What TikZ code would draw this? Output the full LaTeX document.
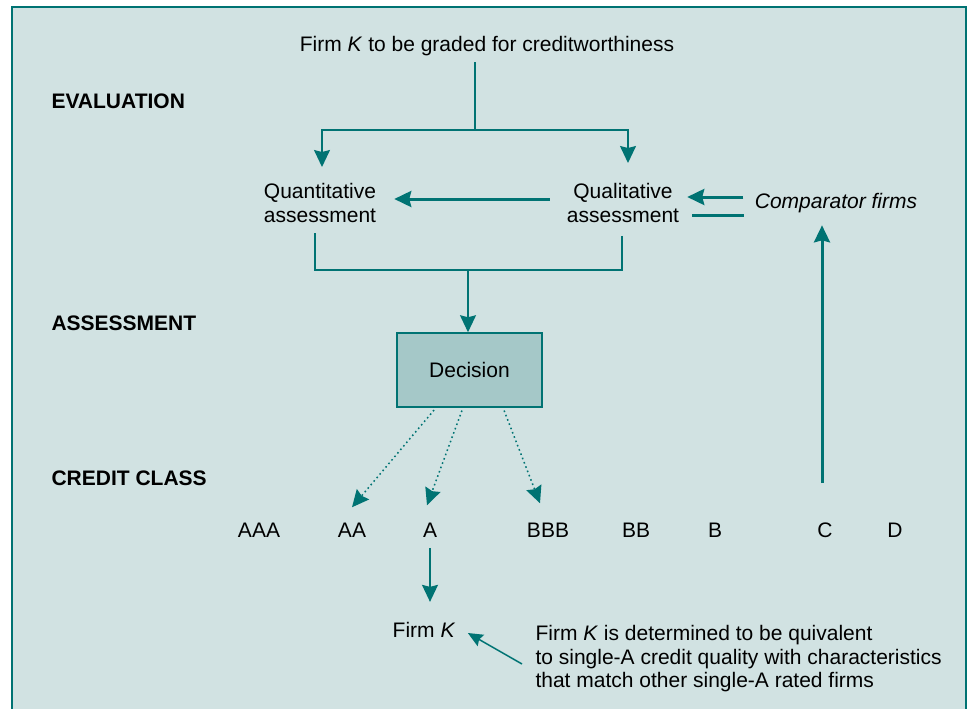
\documentclass[tikz,border=0pt]{standalone}
\usepackage{fontspec}
\setmainfont{Liberation Sans}
\usetikzlibrary{arrows.meta,calc}
\definecolor{bgc}{HTML}{D1E2E2}
\definecolor{tealc}{HTML}{007373}
\definecolor{decfill}{HTML}{A5C8C8}
\begin{document}
\begin{tikzpicture}[x=1pt,y=-1pt,
  font=\fontsize{21}{23.5}\selectfont,
  conn/.style={draw=tealc, line width=1.5pt},
  arr/.style={conn, -{Stealth[length=17pt,width=16pt,inset=2pt]}},
  heavyarr/.style={arr, line width=3pt},
  dotarr/.style={conn, dash pattern=on 1.6pt off 3pt, -{Stealth[length=17pt,width=16pt,inset=2pt]}},
  lbl/.style={anchor=west, font=\fontsize{21}{23.5}\selectfont\bfseries},
  txt/.style={align=center}
]
\useasboundingbox (0,0) rectangle (969,709);
% frame
\fill[bgc] (12,7) rectangle (966,709);
\draw[tealc, line width=1.8pt] (12,709) -- (12,7) -- (966,7) -- (966,709);

% section labels
\node[lbl] (lev) at (48,101) {EVALUATION};
\node[lbl] (las) at (48,323) {ASSESSMENT};
\node[lbl] (lcc) at (48,478) {CREDIT CLASS};

% nodes
\node (title) at (487,46) {Firm \textit{K} to be graded for creditworthiness};
\node[txt] (quant) at (320,203) {Quantitative\\assessment};
\node[txt] (qual) at (623,203) {Qualitative\\assessment};
\node (comp) at (836,203) {\textit{Comparator firms}};
\node[draw=tealc, line width=1.5pt, fill=decfill, minimum width=145pt, minimum height=74pt] (dec) at (469.5,370) {Decision};

\node (AAA) at (259,530) {AAA};
\node (AA) at (352,530) {AA};
\node (A) at (430,530) {A};
\node (BBB) at (548,530) {BBB};
\node (BB) at (636,530) {BB};
\node (B) at (715,530) {B};
\node (C) at (825,530) {C};
\node (D) at (895,530) {D};

\node (firmK) at (424,630) {Firm \textit{K}};
\node[align=left, anchor=west] (note) at (532,659) {Firm \textit{K} is determined to be quivalent\\to single-A credit quality with characteristics\\that match other single-A rated firms};

% coordinates
\coordinate (j1) at (475,130);
\coordinate (j2) at (468,270);

% connectors
\draw[conn, shorten <=3pt] (title.south -| j1) -- (j1);
\draw[arr, shorten >=13pt] (j1) -| ([xshift=2pt]quant.north);
\draw[arr, shorten >=17pt] (j1) -| ([xshift=5pt]qual.north);

\draw[heavyarr, shorten <=13.7pt, shorten >=14.7pt] ([yshift=4pt]qual.west) -- ([yshift=4pt]quant.east);
\draw[heavyarr, shorten <=8pt, shorten >=4.7pt] ([yshift=6pt]comp.west) -- ([yshift=6pt]qual.east);
\draw[conn, line width=3pt, shorten <=9.7pt, shorten >=7pt] ([yshift=-12pt]qual.east) -- ([yshift=-12pt]comp.west);

\draw[conn, shorten <=7.5pt] ([xshift=-5pt]quant.south) |- (j2);
\draw[conn, shorten <=10pt] ([xshift=-1pt]qual.south) |- (j2);
\draw[arr] (j2) -- (j2 |- dec.north);

\draw[dotarr, shorten <=3pt] ([xshift=-33.5pt]dec.south) -- ([yshift=12pt]AA.north);
\draw[dotarr, shorten <=3pt] ([xshift=-6.5pt]dec.south) -- ([xshift=-3pt,yshift=14pt]A.north);
\draw[dotarr, shorten <=3pt] ([xshift=33.5pt]dec.south) -- ([xshift=-8pt,yshift=16pt]BBB.north);

\draw[heavyarr, shorten <=36pt, shorten >=9pt] ([xshift=-3pt]C.north) -- ([xshift=-3pt]C.north |- comp.south);

\draw[arr, shorten <=7pt, shorten >=17pt] (A.south) -- (A.south |- firmK.north);
\draw[arr, -{Stealth[length=15pt,width=13pt,inset=2pt]}] ([xshift=-10pt,yshift=-5pt]note.west) -- ([xshift=9pt,yshift=-3pt]firmK.east);
\end{tikzpicture}
\end{document}
